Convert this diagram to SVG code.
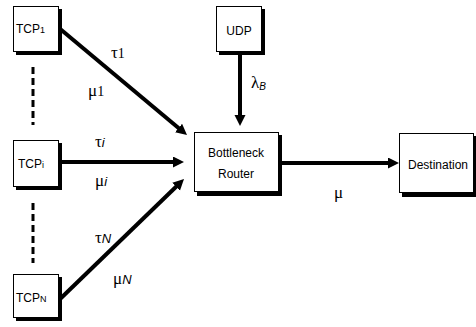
<svg xmlns="http://www.w3.org/2000/svg" width="476" height="327" viewBox="0 0 476 327">
<style>
.box{fill:#fff;stroke:#000;stroke-width:1}
.sh{fill:#000}
.lbl{font-family:"Liberation Sans",Arial,sans-serif;font-size:12px;fill:#000}
.sub{font-size:9px}
.gr{font-family:"Liberation Serif","Times New Roman",serif;font-size:17px;fill:#000}
.dg{font-size:14px}
.it{font-family:"Liberation Sans",Arial,sans-serif;font-style:italic;font-size:13px}
.itb{font-family:"Liberation Sans",Arial,sans-serif;font-style:italic;font-size:10px}
.ar{stroke:#000;stroke-width:4;fill:none}
.dash{stroke:#000;stroke-width:3;stroke-dasharray:7 4;fill:none}
</style>
<defs>
<marker id="ah" markerUnits="userSpaceOnUse" markerWidth="12" markerHeight="12" refX="5" refY="5.5" orient="auto">
<path d="M0,0 L11,5.5 L0,11 z" fill="#000"/>
</marker>
</defs>
<g id="connectors">
<line class="ar" x1="59" y1="28" x2="182.4" y2="131.2" marker-end="url(#ah)"/>
<line class="ar" x1="59" y1="162" x2="178" y2="162" marker-end="url(#ah)"/>
<line class="ar" x1="59" y1="300" x2="179.7" y2="183.2" marker-end="url(#ah)"/>
<line class="ar" x1="240" y1="52" x2="240" y2="120" marker-end="url(#ah)"/>
<line class="ar" x1="278" y1="163" x2="393" y2="163" marker-end="url(#ah)"/>
<line class="dash" x1="33" y1="67" x2="33" y2="125"/>
<line class="dash" x1="33" y1="203" x2="33" y2="263"/>
<text class="gr" x="111" y="58">τ<tspan class="dg">1</tspan></text>
<text class="gr" x="88" y="96">μ<tspan class="dg">1</tspan></text>
<text class="gr" x="95" y="147">τ<tspan class="it">i</tspan></text>
<text class="gr" x="95" y="186">μ<tspan class="it">i</tspan></text>
<text class="gr" x="95" y="243">τ<tspan class="it">N</tspan></text>
<text class="gr" x="113" y="284">μ<tspan class="it">N</tspan></text>
<text class="gr" x="251" y="88">λ<tspan class="itb" dy="2">B</tspan></text>
<text class="gr" x="334" y="198">μ</text>
</g>
<g id="tcp1">
<rect class="sh" x="16" y="9" width="46" height="46"/>
<rect class="box" x="13.5" y="6.5" width="45" height="45"/>
<text class="lbl" x="16" y="33">TCP<tspan class="sub">1</tspan></text>
</g>
<g id="tcpi">
<rect class="sh" x="16" y="143" width="46" height="47"/>
<rect class="box" x="13.5" y="140.5" width="45" height="46"/>
<text class="lbl" x="18" y="168">TCP<tspan class="sub">i</tspan></text>
</g>
<g id="tcpn">
<rect class="sh" x="16" y="277" width="46" height="44"/>
<rect class="box" x="13.5" y="274.5" width="45" height="43"/>
<text class="lbl" x="16" y="302">TCP<tspan class="sub">N</tspan></text>
</g>
<g id="udp">
<rect class="sh" x="219" y="9" width="46" height="46"/>
<rect class="box" x="216.5" y="6.5" width="45" height="45"/>
<text class="lbl" x="239" y="35" text-anchor="middle">UDP</text>
</g>
<g id="router">
<rect class="sh" x="197" y="135" width="85" height="61"/>
<rect class="box" x="194.5" y="132.5" width="84" height="59"/>
<text class="lbl" x="236" y="157" text-anchor="middle">Bottleneck</text>
<text class="lbl" x="236" y="178" text-anchor="middle">Router</text>
</g>
<g id="destination">
<rect class="sh" x="402" y="136" width="74" height="61"/>
<rect class="box" x="399.5" y="133.5" width="74" height="59"/>
<text class="lbl" x="438" y="169" text-anchor="middle">Destination</text>
</g>
</svg>
